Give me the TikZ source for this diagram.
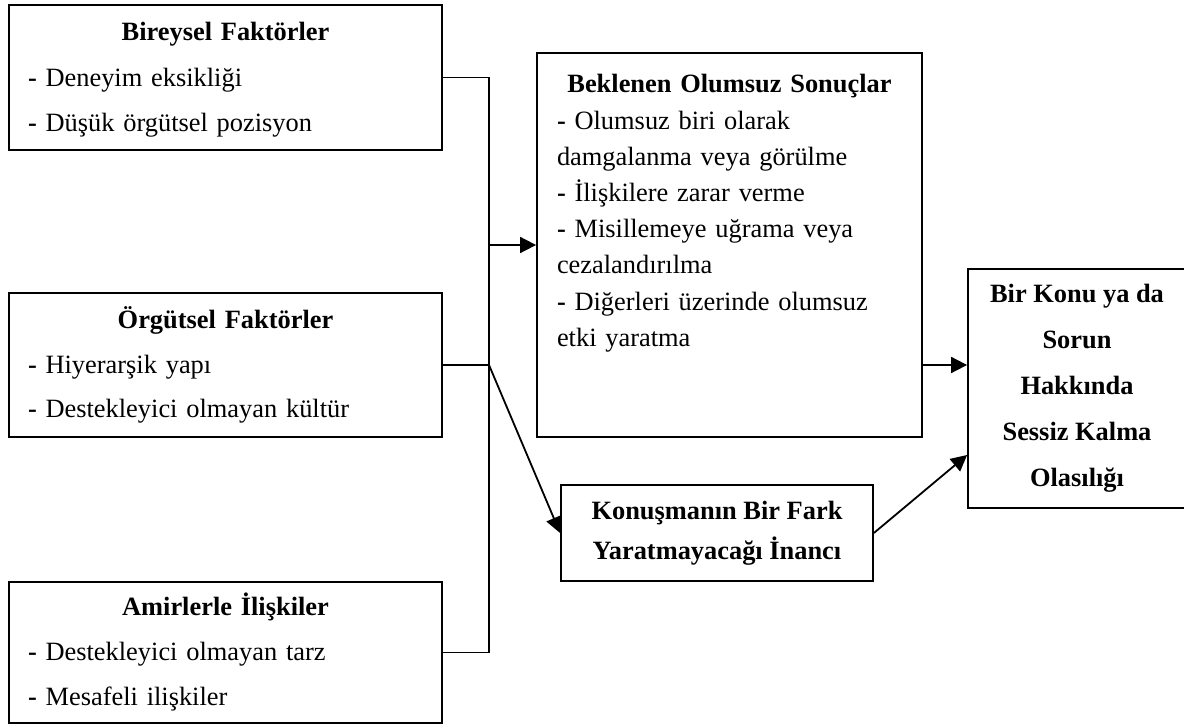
\documentclass[tikz,border=0pt]{standalone}
\usepackage{fontspec}
\setmainfont{Liberation Serif}
\usepackage{tikz}
\usetikzlibrary{positioning,%
  arrows.meta,%
  calc%
}

\begin{document}
\begin{tikzpicture}[x=0.5pt,y=-0.5pt,
    box/.style={draw,line width=0.9pt,inner xsep=9.5pt,inner ysep=4pt},
    txt/.style={font={\fontsize{13.2pt}{#1}\selectfont}},
    btxt/.style={font={\fontsize{13.2pt}{#1}\selectfont\bfseries},align=center},
    ln/.style={line width=0.9pt},
    arr/.style={line width=0.9pt,-{Triangle[length=8pt,width=8pt]}}]
  \useasboundingbox (0,0) rectangle (1184,726);

  % left column
  \node[box,txt=22.8pt,minimum width=216.5pt,minimum height=72.5pt,text width=197.5pt,
        text height=11.5pt] (ind) at (225.5,77.5)
    {{\centering\bfseries Bireysel Faktörler\par}
     \textbf{-} Deneyim eksikliği\par
     \textbf{-} Düşük örgütsel pozisyon};
  \node[box,txt=22.3pt,minimum width=216.5pt,minimum height=72pt,text width=197.5pt] (org) at (225.5,365)
    {{\centering\bfseries Örgütsel Faktörler\par}
     \textbf{-} Hiyerarşik yapı\par
     \textbf{-} Destekleyici olmayan kültür};
  \node[box,txt=22.5pt,minimum width=216.5pt,minimum height=70.5pt,text width=197.5pt,
        text height=11pt] (sup) at (225.5,652.5)
    {{\centering\bfseries Amirlerle İlişkiler\par}
     \textbf{-} Destekleyici olmayan tarz\par
     \textbf{-} Mesafeli ilişkiler};

  % middle
  \node[box,txt=18.1pt,minimum width=192.5pt,minimum height=192pt,text width=172.5pt,inner xsep=10pt,
        text height=9pt,text depth=161pt] (csq) at (729.5,245)
    {{\centering\bfseries Beklenen Olumsuz Sonuçlar\par}
     \textbf{-} Olumsuz biri olarak\par
     damgalanma veya görülme\par
     \textbf{-} İlişkilere zarar verme\par
     \textbf{-} Misillemeye uğrama veya\par
     cezalandırılma\par
     \textbf{-} Diğerleri üzerinde olumsuz\par
     etki yaratma};
  \node[box,btxt=20pt,minimum width=156pt,minimum height=48pt] (blf) at (717,533)
    {Konuşmanın Bir Fark\\Yaratmayacağı İnancı};

  % right
  \node[box,btxt=23pt,minimum width=109pt,minimum height=119.5pt,inner xsep=4pt] (sil) at (1077,388.5)
    {Bir Konu ya da\\Sorun\\Hakkında\\Sessiz Kalma\\Olasılığı};

  \coordinate (jn) at (489,245);
  \draw[ln] (ind.east) -| (jn);
  \draw[ln] (sup.east) -| (jn);
  \draw[ln] (org.east) -- (org.east -| jn) coordinate (jo);
  \draw[ln] (jn) -- (jo);

  \draw[arr] (jn) -- (csq.west);
  \draw[arr] (jo) -- (blf.west);
  \draw[arr] (csq.east |- jo) -- (sil.west |- jo);
  \draw[arr] (blf.east) -- ([yshift=-33.25pt]sil.west);
\end{tikzpicture}
\end{document}
